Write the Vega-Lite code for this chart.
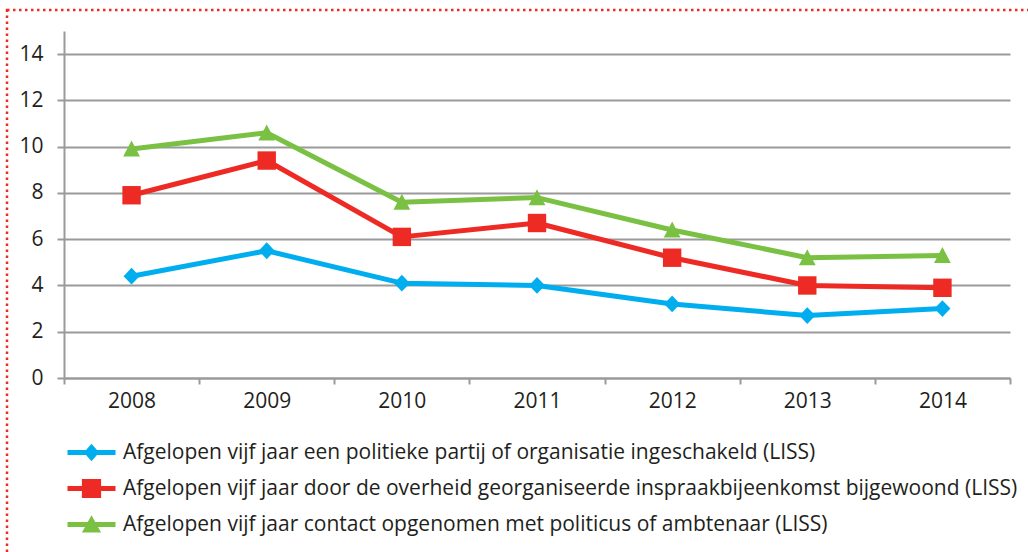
{
  "$schema": "https://vega.github.io/schema/vega-lite/v6.json",
  "autosize": "none",
  "width": 1023,
  "height": 544,
  "padding": {"left": 7, "top": 10, "right": -2, "bottom": -2},
  "background": "white",
  "view": {"stroke": "#EE2A24", "strokeWidth": 2.5, "strokeDash": [2.5, 3.5]},
  "config": {"font": "Open Sans", "axis": {"labelFont": "Open Sans"}, "legend": {"labelFont": "Open Sans"}},
  "data": {
    "values": [
      {"jaar": "2008", "reeks": "Afgelopen vijf jaar een politieke partij of organisatie ingeschakeld (LISS)", "waarde": 4.4},
      {"jaar": "2009", "reeks": "Afgelopen vijf jaar een politieke partij of organisatie ingeschakeld (LISS)", "waarde": 5.5},
      {"jaar": "2010", "reeks": "Afgelopen vijf jaar een politieke partij of organisatie ingeschakeld (LISS)", "waarde": 4.1},
      {"jaar": "2011", "reeks": "Afgelopen vijf jaar een politieke partij of organisatie ingeschakeld (LISS)", "waarde": 4.0},
      {"jaar": "2012", "reeks": "Afgelopen vijf jaar een politieke partij of organisatie ingeschakeld (LISS)", "waarde": 3.2},
      {"jaar": "2013", "reeks": "Afgelopen vijf jaar een politieke partij of organisatie ingeschakeld (LISS)", "waarde": 2.7},
      {"jaar": "2014", "reeks": "Afgelopen vijf jaar een politieke partij of organisatie ingeschakeld (LISS)", "waarde": 3.0},
      {"jaar": "2008", "reeks": "Afgelopen vijf jaar door de overheid georganiseerde inspraakbijeenkomst bijgewoond (LISS)", "waarde": 7.9},
      {"jaar": "2009", "reeks": "Afgelopen vijf jaar door de overheid georganiseerde inspraakbijeenkomst bijgewoond (LISS)", "waarde": 9.4},
      {"jaar": "2010", "reeks": "Afgelopen vijf jaar door de overheid georganiseerde inspraakbijeenkomst bijgewoond (LISS)", "waarde": 6.1},
      {"jaar": "2011", "reeks": "Afgelopen vijf jaar door de overheid georganiseerde inspraakbijeenkomst bijgewoond (LISS)", "waarde": 6.7},
      {"jaar": "2012", "reeks": "Afgelopen vijf jaar door de overheid georganiseerde inspraakbijeenkomst bijgewoond (LISS)", "waarde": 5.2},
      {"jaar": "2013", "reeks": "Afgelopen vijf jaar door de overheid georganiseerde inspraakbijeenkomst bijgewoond (LISS)", "waarde": 4.0},
      {"jaar": "2014", "reeks": "Afgelopen vijf jaar door de overheid georganiseerde inspraakbijeenkomst bijgewoond (LISS)", "waarde": 3.9},
      {"jaar": "2008", "reeks": "Afgelopen vijf jaar contact opgenomen met politicus of ambtenaar (LISS)", "waarde": 9.9},
      {"jaar": "2009", "reeks": "Afgelopen vijf jaar contact opgenomen met politicus of ambtenaar (LISS)", "waarde": 10.6},
      {"jaar": "2010", "reeks": "Afgelopen vijf jaar contact opgenomen met politicus of ambtenaar (LISS)", "waarde": 7.6},
      {"jaar": "2011", "reeks": "Afgelopen vijf jaar contact opgenomen met politicus of ambtenaar (LISS)", "waarde": 7.8},
      {"jaar": "2012", "reeks": "Afgelopen vijf jaar contact opgenomen met politicus of ambtenaar (LISS)", "waarde": 6.4},
      {"jaar": "2013", "reeks": "Afgelopen vijf jaar contact opgenomen met politicus of ambtenaar (LISS)", "waarde": 5.2},
      {"jaar": "2014", "reeks": "Afgelopen vijf jaar contact opgenomen met politicus of ambtenaar (LISS)", "waarde": 5.3}
    ]
  },
  "encoding": {
    "x": {
      "field": "jaar",
      "type": "ordinal",
      "scale": {"type": "band", "range": [57, 1003], "paddingInner": 0, "paddingOuter": 0},
      "axis": {
        "orient": "bottom",
        "offset": -176,
        "title": null,
        "labelAngle": 0,
        "grid": false,
        "domainColor": "#9a9a9a",
        "domainWidth": 2,
        "tickColor": "#9a9a9a",
        "tickWidth": 2,
        "tickSize": 6,
        "tickBand": "extent",
        "labelFontSize": 21,
        "labelColor": "#231F20",
        "labelPadding": 6,
        "zindex": 0
      }
    },
    "y": {
      "field": "waarde",
      "type": "quantitative",
      "scale": {"domain": [0, 15], "range": [368, 21], "nice": false, "zero": true},
      "axis": {
        "offset": -57,
        "title": null,
        "values": [0, 2, 4, 6, 8, 10, 12, 14],
        "grid": true,
        "gridColor": "#9a9a9a",
        "gridWidth": 2,
        "domainColor": "#9a9a9a",
        "domainWidth": 2,
        "tickColor": "#9a9a9a",
        "tickWidth": 2,
        "tickSize": 7,
        "labelFontSize": 21,
        "labelColor": "#231F20",
        "labelPadding": 14,
        "zindex": 0
      }
    },
    "color": {
      "field": "reeks",
      "type": "nominal",
      "sort": null,
      "scale": {
        "domain": [
          "Afgelopen vijf jaar een politieke partij of organisatie ingeschakeld (LISS)",
          "Afgelopen vijf jaar door de overheid georganiseerde inspraakbijeenkomst bijgewoond (LISS)",
          "Afgelopen vijf jaar contact opgenomen met politicus of ambtenaar (LISS)"
        ],
        "range": ["#00AEEF", "#EE2A24", "#7AC143"]
      },
      "legend": {
        "title": null,
        "orient": "none",
        "legendX": 58,
        "legendY": 432,
        "padding": 0,
        "direction": "vertical",
        "labelFontSize": 21,
        "labelColor": "#231F20",
        "labelLimit": 1000,
        "labelOffset": 37,
        "rowPadding": 14,
        "symbolSize": 256,
        "symbolStrokeWidth": 0,
        "symbolOpacity": 1,
        "symbolType": {"expr": "datum.index === 0 ? 'M-1,-0.3H5V0.3H-1Z M2,-1.1L2.95,0L2,1.1L1.05,0Z' : datum.index === 1 ? 'M-1,-0.3H5V0.3H-1Z M0.8,-1.2H3.2V1.2H0.8Z' : 'M-1,-0.3H5V0.3H-1Z M2,-1.15L3.2,1H0.8Z'"},
        "symbolFillColor": {"expr": "scale('color', datum.value)"}
      }
    }
  },
  "layer": [
    {"mark": {"type": "line", "strokeWidth": 5, "strokeJoin": "round"}},
    {
      "transform": [{"filter": "datum.reeks === 'Afgelopen vijf jaar een politieke partij of organisatie ingeschakeld (LISS)'"}],
      "mark": {"type": "point", "filled": true, "size": 256, "opacity": 1, "strokeWidth": 0, "shape": "M0,-1.05L1,0L0,1.05L-1,0Z"}
    },
    {
      "transform": [{"filter": "datum.reeks === 'Afgelopen vijf jaar door de overheid georganiseerde inspraakbijeenkomst bijgewoond (LISS)'"}],
      "mark": {"type": "point", "filled": true, "size": 256, "opacity": 1, "strokeWidth": 0, "shape": "M-1.15,-1.15H1.15V1.15H-1.15Z"}
    },
    {
      "transform": [{"filter": "datum.reeks === 'Afgelopen vijf jaar contact opgenomen met politicus of ambtenaar (LISS)'"}],
      "mark": {"type": "point", "filled": true, "size": 256, "opacity": 1, "strokeWidth": 0, "shape": "M0,-1.05L1.05,0.95H-1.05Z"}
    }
  ]
}
